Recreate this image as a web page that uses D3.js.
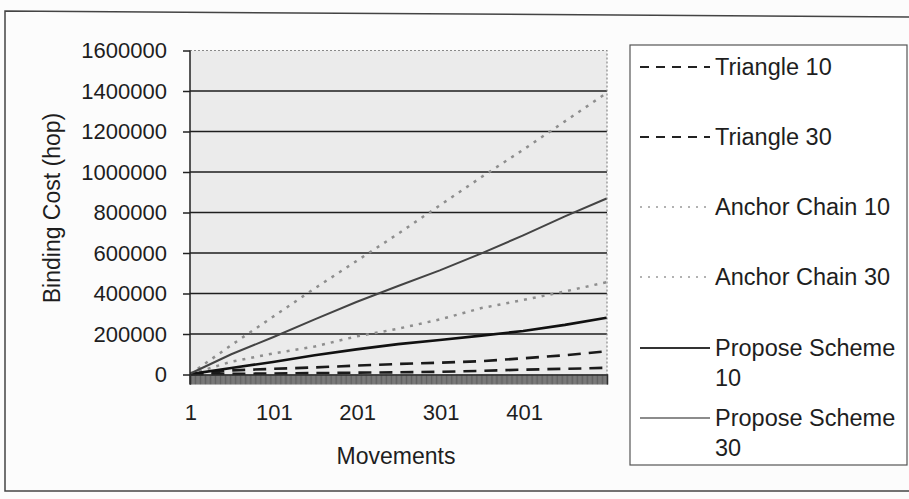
<!DOCTYPE html>
<html>
<head>
<meta charset="utf-8">
<script src="https://cdn.jsdelivr.net/npm/d3@7"></script>
<style>
  body { margin: 0; background: #fcfcfc; }
  svg { display: block; font-family: "Liberation Sans", Arial, sans-serif; }
</style>
</head>
<body>
<svg width="909" height="499"></svg>
<script>
const movements = [1, 50, 100, 150, 200, 250, 300, 350, 400, 450, 500];
const triangle10 = [0, 3000, 5000, 7000, 9000, 11000, 13000, 18000, 24000, 28000, 33000];
const triangle30 = [0, 20000, 28000, 35000, 44000, 52000, 58000, 66000, 80000, 95000, 115000];
const anchor10 = [2000, 63000, 104000, 138000, 188000, 226000, 272000, 328000, 368000, 410000, 456000];
const anchor30 = [3000, 145000, 285000, 425000, 560000, 695000, 835000, 975000, 1110000, 1250000, 1390000];
const propose10 = [2000, 32000, 62000, 95000, 124000, 150000, 170000, 192000, 215000, 245000, 280000];
const propose30 = [5000, 100000, 184000, 272000, 358000, 437000, 514000, 598000, 687000, 781000, 869000];

const seriesNames = ["Triangle 10", "Triangle 30", "Anchor Chain 10", "Anchor Chain 30", "Propose Scheme 10", "Propose Scheme 30"];
const yTicks = [0, 200000, 400000, 600000, 800000, 1000000, 1200000, 1400000, 1600000];
const xTickLabels = [1, 101, 201, 301, 401];

const svg = d3.select("svg");

// outer frame (scanned page, slightly tilted top edge)
svg.append("path")
  .attr("d", "M909,17 L5,11 L5,491 L909,491")
  .attr("fill", "none")
  .attr("stroke", "#444")
  .attr("stroke-width", 1.5);

const plot = {left: 190, right: 607, top: 50.5, bottom: 374.5};

const x = d3.scaleLinear().domain([0.5, 500.5]).range([plot.left, plot.right]);
const y = d3.scaleLinear().domain([0, 1600000]).range([plot.bottom, plot.top]);

// plot background
svg.append("rect")
  .attr("x", plot.left).attr("y", plot.top)
  .attr("width", plot.right - plot.left).attr("height", plot.bottom - plot.top)
  .attr("fill", "#ebebeb");

// gridlines
svg.append("g").selectAll("line")
  .data(yTicks.filter(d => d > 0 && d < 1600000))
  .join("line")
  .attr("x1", plot.left).attr("x2", plot.right)
  .attr("y1", d => y(d)).attr("y2", d => y(d))
  .attr("stroke", "#1e1e1e")
  .attr("stroke-width", 1.6);

// dotted top and right border
svg.append("path")
  .attr("d", `M${plot.left},${plot.top} H${plot.right} V${plot.bottom}`)
  .attr("fill", "none")
  .attr("stroke", "#888")
  .attr("stroke-width", 1.2)
  .attr("stroke-dasharray", "2,2");

// series
const series = [
  {name: seriesNames[0], values: triangle10, color: "#1a1a1a", width: 2.6, dash: "13,8"},
  {name: seriesNames[1], values: triangle30, color: "#1a1a1a", width: 2.6, dash: "13,8"},
  {name: seriesNames[2], values: anchor10, color: "#8e8e8e", width: 2.5, dash: "3,6"},
  {name: seriesNames[3], values: anchor30, color: "#8e8e8e", width: 2.5, dash: "3,6"},
  {name: seriesNames[4], values: propose10, color: "#111", width: 2.6, dash: null},
  {name: seriesNames[5], values: propose30, color: "#444", width: 2, dash: null}
];

const line = d3.line()
  .x((d, i) => x(movements[i]))
  .y(d => y(d));

svg.append("g").selectAll("path")
  .data(series)
  .join("path")
  .attr("d", d => line(d.values))
  .attr("fill", "none")
  .attr("stroke", d => d.color)
  .attr("stroke-width", d => d.width)
  .attr("stroke-dasharray", d => d.dash);

// y axis
const yAxis = svg.append("g")
  .attr("transform", `translate(${plot.left},0)`)
  .call(d3.axisLeft(y).tickValues(yTicks).tickSize(7).tickPadding(16).tickFormat(d3.format("d")));
yAxis.select(".domain").remove();
yAxis.selectAll(".tick line").attr("stroke", "#222").attr("stroke-width", 1.5);
yAxis.selectAll("text").attr("font-size", 22).attr("fill", "#1e1e1e");
yAxis.append("line")
  .attr("y1", plot.top).attr("y2", plot.bottom + 10)
  .attr("stroke", "#222").attr("stroke-width", 1.5);

// dense category tick band
const band = svg.append("g")
  .attr("transform", `translate(0,${plot.bottom})`)
  .call(d3.axisBottom(x).tickValues(d3.range(0.5, 501, 1)).tickSize(10).tickFormat(""));
band.select(".domain").attr("stroke", "#222").attr("stroke-width", 1.5);
band.selectAll(".tick line").attr("stroke", "#333").attr("stroke-width", 0.7);

// x labels
const xAxis = svg.append("g")
  .attr("transform", `translate(0,${plot.bottom})`)
  .call(d3.axisBottom(x).tickValues(xTickLabels).tickSize(0).tickPadding(30));
xAxis.select(".domain").remove();
xAxis.selectAll("text").attr("font-size", 22).attr("fill", "#1e1e1e");

// axis titles
svg.append("text")
  .attr("transform", "translate(52,208) rotate(-90)")
  .attr("text-anchor", "middle")
  .attr("dy", "0.35em")
  .attr("font-size", 23)
  .attr("fill", "#1e1e1e")
  .text("Binding Cost (hop)");

svg.append("text")
  .attr("x", 396).attr("y", 456)
  .attr("dy", "0.35em")
  .attr("text-anchor", "middle")
  .attr("font-size", 23)
  .attr("fill", "#1e1e1e")
  .text("Movements");

// legend
svg.append("rect")
  .attr("x", 630).attr("y", 45)
  .attr("width", 277).attr("height", 420)
  .attr("fill", "#fff")
  .attr("stroke", "#555")
  .attr("stroke-width", 1.2);

const legendY = [67, 137, 207, 277, 348, 418];
const legendStyle = [
  {color: "#222", width: 1.8, dash: "9,7"},
  {color: "#222", width: 1.8, dash: "9,7"},
  {color: "#999", width: 1.5, dash: "2,6"},
  {color: "#999", width: 1.5, dash: "2,6"},
  {color: "#333", width: 1.8, dash: null},
  {color: "#666", width: 1.5, dash: null}
];

const leg = svg.append("g").selectAll("g")
  .data(series)
  .join("g")
  .attr("transform", (d, i) => `translate(0,${legendY[i]})`);

leg.append("line")
  .attr("x1", 640).attr("x2", 710)
  .attr("stroke", (d, i) => legendStyle[i].color)
  .attr("stroke-width", (d, i) => legendStyle[i].width)
  .attr("stroke-dasharray", (d, i) => legendStyle[i].dash);

leg.append("text")
  .attr("x", 715)
  .attr("font-size", 23.5)
  .attr("fill", "#1e1e1e")
  .each(function(d) {
    const t = d3.select(this);
    const parts = d.name.startsWith("Propose") ? ["Propose Scheme", d.name.split(" ")[2]] : [d.name];
    parts.forEach((p, k) => {
      t.append("tspan")
        .attr("x", 715)
        .attr("dy", k === 0 ? "0.35em" : "1.25em")
        .text(p);
    });
  });
</script>
</body>
</html>
